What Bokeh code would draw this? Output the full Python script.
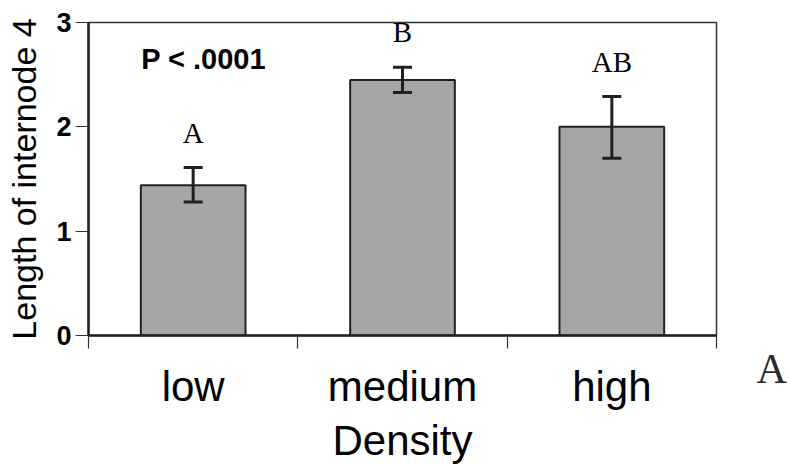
from bokeh.plotting import figure
from bokeh.models import (Range1d, FixedTicker, ColumnDataSource, Whisker, TeeHead,
                          Label, LabelSet, LinearAxis)
from bokeh.embed import file_html
from bokeh.resources import INLINE

# ---- data ----
categories = ["low", "medium", "high"]
means = [1.44, 2.45, 2.00]
err_low = [1.28, 2.33, 1.70]
err_high = [1.61, 2.57, 2.29]
letters = ["A", "B", "AB"]
y_ticks = [0, 1, 2, 3]
x_label = "Density"
y_label = "Length of internode 4"
p_text = "P < .0001"
panel_tag = "A"

xpos = [i + 0.5 for i in range(len(categories))]
src = ColumnDataSource(dict(x=xpos, top=means, lower=err_low, upper=err_high,
                            letter=letters))

p = figure(width=790, height=466, output_backend="svg", toolbar_location=None,
           x_range=Range1d(0, len(categories)), y_range=Range1d(0, 3),
           min_border_left=88, min_border_right=74, min_border_top=22,
           min_border_bottom=129)
p.background_fill_color = "white"
p.border_fill_color = "white"
p.grid.visible = False
p.outline_line_color = "#333333"
p.outline_line_width = 1.5

p.vbar(x="x", top="top", width=0.5, source=src, fill_color="#a5a6a8",
       line_color="#231f20", line_width=2)

w = Whisker(base="x", lower="lower", upper="upper", source=src,
            line_color="#231f20", line_width=3, level="overlay",
            upper_head=TeeHead(size=19, line_color="#231f20", line_width=3),
            lower_head=TeeHead(size=19, line_color="#231f20", line_width=3))
p.add_layout(w)

ls = LabelSet(x="x", y="upper", text="letter", source=src, y_offset=25,
              text_align="center", text_baseline="alphabetic",
              text_font="Liberation Serif", text_font_size="29px",
              text_color="black")
p.add_layout(ls)

p.add_layout(Label(x=0.55, y=2.65, text=p_text, text_align="center",
                   text_baseline="alphabetic", text_font="Liberation Sans",
                   text_font_style="bold", text_font_size="29px",
                   text_color="black"))

# panel tag on the right, drawn as the label of an invisible right axis
p.extra_y_ranges = {"tag": Range1d(0, 1)}
ra = LinearAxis(y_range_name="tag", ticker=FixedTicker(ticks=[0], minor_ticks=[]))
ra.major_label_overrides = {0: "\n" + panel_tag}
ra.axis_line_color = None
ra.major_tick_line_color = None
ra.minor_tick_line_color = None
ra.major_tick_out = 0
ra.major_tick_in = 0
ra.major_label_standoff = 40
ra.major_label_text_font = "Liberation Serif"
ra.major_label_text_font_size = "42px"
ra.major_label_text_line_height = 1.45
ra.major_label_text_color = "#2a2a2a"
p.add_layout(ra, "right")

# y axis
ya = p.yaxis[0]
ya.ticker = FixedTicker(ticks=y_ticks, minor_ticks=[])
ya.axis_line_color = "#231f20"
ya.axis_line_width = 2.5
ya.major_tick_out = 13
ya.major_tick_in = 0
ya.major_tick_line_color = "#333333"
ya.major_tick_line_width = 1.2
ya.minor_tick_out = 0
ya.minor_tick_in = 0
ya.major_label_standoff = 4
ya.major_label_text_font = "Liberation Sans"
ya.major_label_text_font_style = "bold"
ya.major_label_text_font_size = "27px"
ya.major_label_text_color = "black"
ya.axis_label = y_label
ya.axis_label_text_font = "Liberation Sans"
ya.axis_label_text_font_style = "normal"
ya.axis_label_text_font_size = "34px"
ya.axis_label_text_color = "black"
ya.axis_label_standoff = 10

# x axis
xa = p.xaxis[0]
xa.ticker = FixedTicker(ticks=xpos, minor_ticks=list(range(len(categories) + 1)))
xa.major_label_overrides = {xv: c for xv, c in zip(xpos, categories)}
xa.axis_line_color = "#231f20"
xa.axis_line_width = 2.5
xa.major_tick_out = 0
xa.major_tick_in = 0
xa.minor_tick_out = 13
xa.minor_tick_in = 0
xa.minor_tick_line_color = "#333333"
xa.minor_tick_line_width = 1.2
xa.major_label_standoff = 14
xa.major_label_text_font = "Liberation Sans"
xa.major_label_text_font_size = "42px"
xa.major_label_text_color = "black"
xa.axis_label = x_label
xa.axis_label_text_font = "Liberation Sans"
xa.axis_label_text_font_style = "normal"
xa.axis_label_text_font_size = "42px"
xa.axis_label_text_color = "black"
xa.axis_label_standoff = 4

open("out.html", "w").write(file_html(p, INLINE))
